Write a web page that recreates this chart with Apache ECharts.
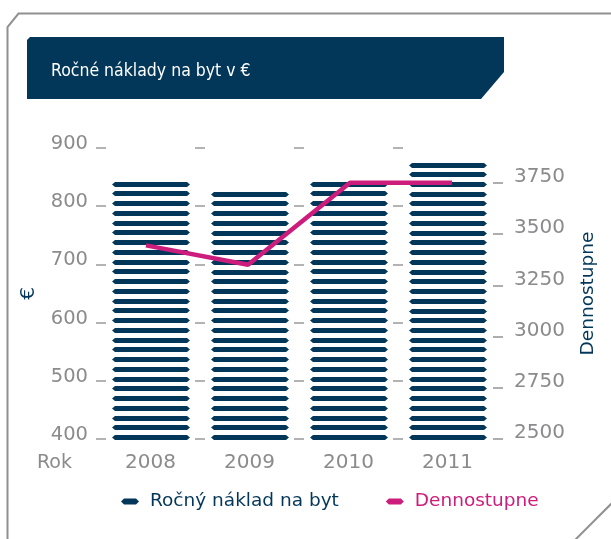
<!DOCTYPE html>
<html><head><meta charset="utf-8">
<script src="https://cdn.jsdelivr.net/npm/echarts@6/dist/echarts.min.js"></script>
<style>html,body{margin:0;padding:0;background:#fff}#c{width:611px;height:539px}</style>
</head><body><div id="c"></div>
<script>
const categories = ['2008', '2009', '2010', '2011'];
const costValues = [842, 825, 842, 875];          // Ročný náklad na byt (€)
const degreeDays = [3445, 3350, 3750, 3750];      // Dennostupne
const leftTicks = [400, 500, 600, 700, 800, 900];
const rightTicks = [2500, 2750, 3000, 3250, 3500, 3750];

const NAVY = '#03375a';
const MAGENTA = '#cd1d7c';
const GRAY = '#8b8b8e';
const FONT = 'DejaVu Sans';
const legendIcon = 'path://M3,0L15,0L18,3L15,6L3,6L0,3Z';
const LEFT_MIN = leftTicks[0];

function renderStripes(params, api) {
  const cat = api.value(0);
  const val = api.value(1);
  const base = api.coord([cat, LEFT_MIN]);
  const top = api.coord([cat, val]);
  const bw = Math.round(api.size([1, 0])[0] * 0.785);
  const h = 5;
  const bottom = Math.round(base[1] + 1);
  const L = bottom - top[1];
  const n = Math.max(1, Math.round((L - h) / 9.8) + 1);
  const pitch = n > 1 ? (L - h) / (n - 1) : 0;
  const x0 = Math.round(base[0] - bw / 2), x1 = x0 + bw;
  const children = [];
  for (let i = 0; i < n; i++) {
    const yb = Math.round(bottom - i * pitch);
    const yt = yb - h;
    const ym = (yt + yb) / 2;
    children.push({
      type: 'polygon',
      shape: {points: [[x0 + 3, yt], [x1 - 3, yt], [x1, ym], [x1 - 3, yb], [x0 + 3, yb], [x0, ym]]},
      style: {fill: NAVY}
    });
  }
  return {type: 'group', children: children};
}

const chart = echarts.init(document.getElementById('c'), null, {renderer: 'canvas'});
chart.setOption({
  animation: false,
  textStyle: {fontFamily: FONT},
  title: {
    text: 'Ročné náklady na byt v €',
    left: 46, top: 57,
    textStyle: {color: '#ffffff', fontFamily: 'DejaVu Sans Condensed', fontSize: 17.5, fontWeight: 'normal'}
  },
  graphic: [
    {type: 'polyline', z: -1, silent: true,
     shape: {points: [[7.5, 545], [7.5, 27], [18.5, 13.5], [620, 13.5]]},
     style: {stroke: '#909090', lineWidth: 2, fill: null}},
    {type: 'line', z: -1, silent: true,
     shape: {x1: 574, y1: 541, x2: 613, y2: 502},
     style: {stroke: '#909090', lineWidth: 2}},
    {type: 'polygon', z: -1, silent: true,
     shape: {points: [[30, 37], [504, 37], [504, 72], [481, 99], [27, 99], [27, 40]]},
     style: {fill: NAVY}}
  ],
  legend: {
    left: 116, top: 487,
    itemWidth: 18, itemHeight: 6, itemGap: 47,
    textStyle: {fontSize: 18.5, fontFamily: FONT, padding: [0, 0, 0, 6]},
    data: [
      {name: 'Ročný náklad na byt', icon: legendIcon, itemStyle: {color: NAVY}, textStyle: {color: NAVY}},
      {name: 'Dennostupne', icon: legendIcon, itemStyle: {color: MAGENTA}, textStyle: {color: MAGENTA}}
    ]
  },
  grid: [
    {left: 101, right: 114, top: 148, bottom: 100},
    {left: 96, width: 308, top: 148, bottom: 100},
    {left: 95, right: 108, top: 148, bottom: 100}
  ],
  xAxis: [
    {gridIndex: 0, type: 'category', data: categories,
     axisLine: {show: false}, axisTick: {show: false},
     axisLabel: {color: GRAY, fontSize: 20, margin: 14, fontFamily: FONT},
     name: 'Rok', nameLocation: 'start', nameGap: 29, nameMoveOverlap: false,
     nameTextStyle: {color: GRAY, fontSize: 19, fontFamily: FONT, verticalAlign: 'top', lineHeight: 48}},
    {gridIndex: 1, type: 'value', show: false},
    {gridIndex: 2, type: 'category', data: categories, show: false}
  ],
  yAxis: [
    {gridIndex: 0, type: 'value', min: LEFT_MIN, max: leftTicks[leftTicks.length - 1], interval: 100,
     axisLine: {show: false}, axisTick: {show: false}, splitLine: {show: false},
     axisLabel: {color: GRAY, fontSize: 19.5, margin: 13, verticalAlign: 'bottom', lineHeight: 8, fontFamily: FONT},
     name: '€', nameLocation: 'middle', nameGap: 62, nameMoveOverlap: false,
     nameTextStyle: {color: NAVY, fontSize: 20, fontFamily: FONT}},
    {gridIndex: 1, type: 'value', min: LEFT_MIN, max: leftTicks[leftTicks.length - 1], interval: 100,
     axisLine: {show: false}, axisTick: {show: false}, axisLabel: {show: false},
     splitLine: {show: true, lineStyle: {color: '#9a9a9a', width: 1.6, type: [10, 89], dashOffset: 0}}},
    {gridIndex: 2, type: 'value', position: 'right', min: 2500, max: 3920, interval: 250,
     axisLine: {show: false}, splitLine: {show: false},
     axisTick: {show: true, inside: true, length: 10, customValues: rightTicks,
                lineStyle: {color: '#9a9a9a', width: 1.6}},
     axisLabel: {color: GRAY, fontSize: 20, margin: 11, verticalAlign: 'bottom', lineHeight: 12, fontFamily: FONT,
                 customValues: rightTicks, formatter: v => String(v)},
     name: 'Dennostupne', nameLocation: 'middle', nameGap: 76, nameMoveOverlap: false,
     nameTextStyle: {color: NAVY, fontSize: 18.5, fontFamily: FONT}}
  ],
  series: [
    {name: 'Ročný náklad na byt', type: 'custom', xAxisIndex: 0, yAxisIndex: 0,
     renderItem: renderStripes, itemStyle: {color: NAVY},
     encode: {x: 0, y: 1},
     data: costValues.map((v, i) => [i, v])},
    {name: 'Dennostupne', type: 'line', xAxisIndex: 2, yAxisIndex: 2,
     showSymbol: false, symbol: 'none',
     lineStyle: {color: MAGENTA, width: 4.5}, itemStyle: {color: MAGENTA},
     data: degreeDays}
  ]
});
</script></body></html>
